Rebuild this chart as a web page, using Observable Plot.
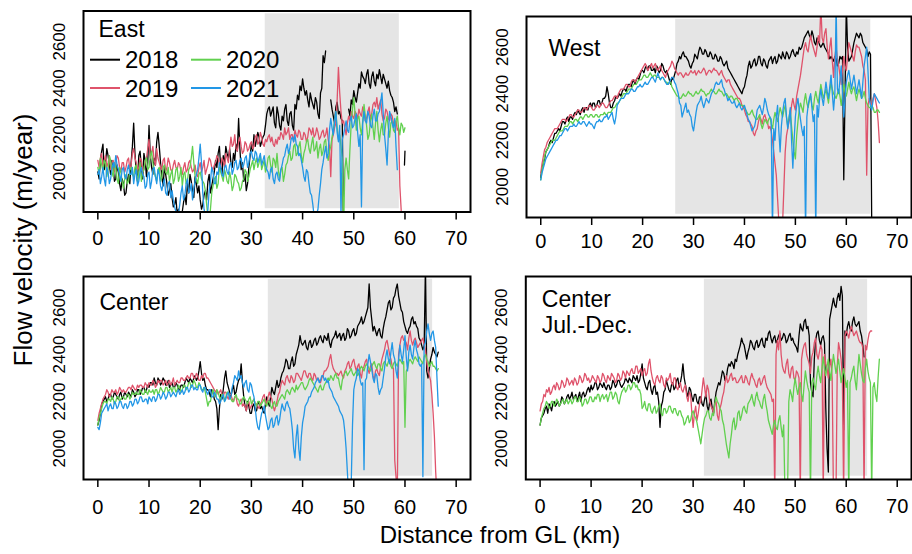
<!DOCTYPE html>
<html><head><meta charset="utf-8">
<script src="https://cdn.jsdelivr.net/npm/d3@7"></script>
<script src="https://cdn.jsdelivr.net/npm/@observablehq/plot@0.6"></script>
<style>
body{margin:0;background:#fff;}
#root{position:relative;width:912px;height:554px;overflow:hidden;background:#fff;}
.panel{position:absolute;}
</style></head><body><div id="root"></div>
<script>
const years = ["2018","2019","2020","2021"];
const colors = ["#000000","#DF536B","#61D04F","#2297E6"];
const xTicks = [0,10,20,30,40,50,60,70];
const yTicks = [2000,2200,2400,2600];
const step = 0.5; // main samples every 0.5 km from 0 km; "Mid" arrays hold the samples half-way between them
const shadeY = [1882, 2720];

// ---------- East ----------
const eastShade = [32.7, 58.9];
const east2018 = [
2040,2090,2160,2080,2110,2030,2060,2010,2040,1960,
1990,1950,2030,2080,2250,2040,2110,2060,2120,2020,
2240,2060,2100,2170,2150,2020,2060,1990,1960,1930,
1900,1860,1840,1870,1940,1990,2030,1960,2020,1950,
1920,1900,1960,2000,1950,2010,2090,2120,2060,2110,
2150,2100,2080,2120,2160,2270,2050,2000,1960,2060,
2160,2200,2180,2190,2170,2200,2290,2320,2300,2250,
2320,2240,2280,2310,2260,2290,2240,2330,2370,2410,
2440,2370,2350,2380,2330,2360,2290,2380,2540,2560,
null,2350,2280,2320,2290,2270,1750,null,2310,2350,
2390,2340,2420,2470,2440,2460,2420,2450,2430,2460,
2480,2420,2440,2400,2390,2360,2300,2290];
const east2018Mid = [
2010,2130,2050,2140,2070,2090,2000,2070,1990,2010,
1940,2000,1990,2150,2120,2000,2130,2010,2090,2080,
2110,2030,2070,2210,2080,1980,2030,1940,1990,1890,
1930,1880,1820,1910,1900,1950,2000,1930,1990,1980,
1880,1940,1920,2030,1980,2040,2060,2150,2030,2070,
2120,2140,2060,2090,2130,2140,2080,2030,1990,2110,
2130,2150,2210,2150,2190,2240,2310,2280,2320,2230,
2290,2220,2260,2330,2240,2300,2220,2310,2350,2390,
2400,2390,2320,2350,2310,2340,2270,2400,2510,null,
null,2310,2250,2340,2300,2260,null,null,2280,2330,
2360,2380,2400,2450,2420,2480,2400,2470,2410,2440,
2450,2460,2420,2430,2370,2340,2320];
const east2018TailKm = [59.9, 60.0];
const east2018TailV = [2070, 2130];
const east2019 = [
2090,2100,2060,2110,2080,2050,2090,2070,2100,2040,
2080,2060,2100,2070,2140,2080,2060,2090,2050,2100,
2180,2120,2090,2140,2080,2050,2100,2060,2080,2040,
2090,2050,2070,2030,2080,2050,2090,2040,2070,2020,
2080,2060,2030,2070,2090,2050,2080,2100,2060,2090,
2120,2080,2190,2160,2140,2170,2150,2130,2160,2140,
2170,2150,2200,2170,2190,2150,2170,2200,2190,2150,
2160,2180,2200,2230,2210,2180,2200,2220,2190,2210,
2180,2200,2190,2220,2230,2200,2210,2190,2220,2200,
2180,2020,2200,2250,2490,2300,2260,2200,2280,2300,
2270,2290,2310,2280,2300,2270,2320,2290,2340,2360,
2330,2290,2270,2300,2260,2280,2240,2220,1980,1750];
const east2019Mid = [
2060,2120,2090,2060,2110,2080,2040,2110,2060,2080,
2040,2090,2050,2120,2100,2050,2100,2040,2080,2140,
2100,2150,2070,2100,2060,2090,2040,2100,2050,2070,
2060,2080,2040,2060,2040,2080,2060,2050,2030,2060,
2040,2090,2050,2100,2060,2070,2110,2070,2100,2060,
2100,2140,2150,2200,2130,2190,2120,2170,2130,2160,
2140,2190,2160,2210,2160,2180,2190,2170,2160,2180,
2190,2210,2180,2200,2230,2200,2170,2200,2220,2180,
2210,2170,2230,2200,2190,2230,2180,2210,2190,2230,
2150,2180,2230,2350,2380,2250,2230,2250,2260,2280,
2300,2270,2290,2320,2260,2300,2270,2330,2320,2310,
2350,2260,2310,2270,2290,2250,2260,2230,1880];
const east2020 = [
2060,2100,2040,2080,2050,2090,2020,2060,1990,2040,
1970,2030,2000,2060,2020,2070,2030,2000,2050,2100,
2060,2130,2040,2000,2060,2020,2070,2030,2000,2050,
2010,2060,2020,1980,2040,2000,2060,2150,2020,1990,
2040,2000,1960,1850,1880,1980,2020,1990,2040,2000,
2030,1990,2010,1980,2020,1990,1970,2010,2040,2020,
2070,2050,2100,2080,2050,2090,2060,2110,2040,2090,
2120,2010,2060,2030,2080,2130,2100,2160,2120,2170,
2080,2140,2180,2120,2190,2140,2100,2160,2130,2180,
2090,2150,2220,2300,2180,2150,1780,2100,2010,2250,
2360,2220,2280,2200,2330,2240,2200,2290,2180,2300,
2170,2250,2200,2280,2190,2260,2210,2280,2200,2240,
2230];
const east2020Mid = [
2030,2070,2090,2020,2110,2040,2080,2010,2060,2000,
2010,1990,2050,2030,2060,2000,2080,2040,2090,2050,
2110,2080,2020,2050,2000,2060,2040,2060,2030,1990,
2050,2000,2060,2030,1990,2050,2100,2080,2010,2030,
2010,1990,1900,1830,1950,2010,1970,2060,2020,2050,
2000,2040,1960,2030,2000,1960,2000,2050,2000,2050,
2090,2080,2060,2110,2070,2040,2100,2070,2100,2060,
2050,2050,2000,2070,2110,2090,2150,2110,2150,2110,
2120,2170,2140,2160,2130,2170,2140,2110,2170,2120,
2130,2190,2260,2230,2200,2100,2050,2050,2140,2310,
2290,2270,2230,2260,2280,2180,2260,2230,2250,2220,
2220,2200,2250,2230,2250,2220,2260,2230,2250,2210];
const east2021 = [
2030,1990,2060,1980,2040,2010,2080,2110,2050,2000,
2060,2010,2070,2030,1990,2050,2000,2060,2020,1980,
2040,2000,2060,1990,2030,1960,2010,1940,2000,1960,
1890,1840,1900,1980,1940,2010,1960,1920,2000,2050,
2160,1950,1850,1880,2000,2040,1990,2030,2060,2020,
2070,2030,2080,2050,2090,2060,2100,2070,2110,2080,
2130,2090,2120,2100,2070,2110,2050,2010,2060,1990,
2040,2000,2070,2110,2160,2140,2190,2200,2150,2120,
2060,2000,2040,1950,1900,1830,1880,1990,2080,2150,
2120,2270,2200,2300,2170,1850,2200,2260,2210,2280,
2240,2290,2150,1890,2300,2250,2280,2230,2310,2260,
2300,2380,2200,2070,2300,2250,2270,2050];
const east2021Mid = [
2050,2020,2010,2060,1990,2050,2060,2070,2030,2050,
2020,2050,2030,2060,2030,1980,2040,2030,1970,2030,
1970,2050,2020,2050,1980,1990,1950,1990,1930,1920,
1870,1860,1950,1920,1990,1950,1990,1970,2030,2100,
2080,1880,1830,1960,2060,1990,2040,2080,2030,2060,
2040,2070,2030,2080,2050,2090,2060,2100,2060,2120,
2100,2130,2080,2120,2090,2070,2040,2050,2010,2030,
2010,2050,2100,2140,2120,2180,2170,2160,2110,2090,
2020,2050,1990,1940,1850,1860,1940,2050,2120,2100,
2220,2230,2260,2210,2240,2180,2230,2220,2260,2230,
2270,2210,2200,2250,2260,2300,2240,2280,2260,2290,
2340,2290,2140,2200,2280,2230,2150];

// ---------- West ----------
const westShade = [26.5, 64.8];
const west2018 = [
2040,2100,2150,2170,2200,2210,2230,2250,2260,2280,
2290,2280,2300,2310,2310,2320,2330,2320,2340,2350,
2340,2360,2350,2370,2360,2380,2430,2360,2340,2370,
2380,2400,2410,2420,2430,2440,2450,2440,2470,2480,
2500,2510,2500,2520,2500,2490,2510,2500,2520,2490,
2480,2440,2460,2500,2540,2550,2580,2560,2540,2510,
2540,2560,2580,2590,2570,2580,2560,2570,2550,2560,
2540,2550,2520,2540,2500,2480,2460,2440,2420,2400,
2430,2480,2540,2520,2550,2530,2560,2520,2540,2510,
2550,2530,2560,2540,2560,2580,2550,2570,2560,2590,
2560,2570,2590,2620,2650,2670,2640,2650,2610,2630,
2600,2620,2590,2570,2560,2540,2550,2530,2550,2030,
2780,2540,2560,2620,2660,2640,2650,2610,2590,2580,
1800];
const west2018Mid = [
2080,2120,2160,2190,2190,2230,2240,2240,2280,2270,
2300,2300,2290,2320,2330,2310,2340,2340,2330,2360,
2360,2340,2370,2350,2380,2390,2400,2340,2360,2390,
2390,2390,2420,2410,2440,2430,2460,2460,2460,2500,
2490,2520,2520,2500,2510,2520,2490,2530,2500,2500,
2460,2470,2480,2530,2560,2570,2560,2550,2520,2530,
2570,2550,2600,2570,2590,2560,2580,2550,2570,2540,
2560,2530,2530,2510,2490,2470,2450,2430,2410,2420,
2460,2520,2510,2540,2520,2560,2530,2550,2520,2540,
2560,2550,2530,2570,2550,2560,2580,2550,2580,2570,
2580,2600,2600,2640,2660,2650,2670,2620,2640,2610,
2610,2600,2580,2550,2550,2560,2520,2560,2560,2400,
2600,2550,2590,2640,2650,2660,2620,2600,2560,2570];
const west2019 = [
2060,2130,2170,2200,2220,2240,2250,2260,2280,2290,
2280,2300,2310,2300,2320,2330,2320,2340,2330,2350,
2340,2330,2350,2340,2360,2350,2340,2360,2370,2390,
2380,2410,2420,2430,2440,2430,2460,2450,2470,2490,
2510,2530,2500,2520,2510,2530,2500,2520,2490,2470,
2500,2520,2530,2500,2480,2490,2470,2490,2480,2500,
2490,2480,2500,2490,2510,2480,2500,2490,2510,2500,
2480,2500,2470,2450,2460,2430,2410,2390,2380,2350,
2330,2300,2280,2260,2220,2250,2300,2270,2310,2280,
2260,2200,2100,1950,1800,1850,2150,2250,2300,2380,
2330,2420,2480,2560,2620,2580,2650,2600,2560,2650,
2780,2620,2680,2550,2640,2470,2600,2520,2440,2560,
2500,2620,2580,2540,2610,2600,2560,2500,2050,2380,
2350,2400,2340,2190];
const west2019Mid = [
2100,2160,2190,2210,2230,2250,2250,2270,2290,2290,
2290,2310,2300,2310,2330,2320,2330,2340,2340,2350,
2330,2340,2350,2350,2360,2340,2350,2370,2380,2390,
2400,2420,2420,2440,2430,2450,2460,2460,2480,2500,
2520,2520,2510,2530,2520,2510,2510,2500,2480,2490,
2510,2540,2510,2490,2490,2480,2480,2480,2490,2490,
2500,2490,2490,2500,2500,2490,2500,2500,2500,2490,
2490,2480,2460,2460,2440,2420,2400,2380,2370,2340,
2310,2280,2270,2230,2240,2280,2290,2300,2290,2250,
2240,2150,2050,1850,1700,2000,2220,2280,2350,2350,
2390,2450,2520,2600,2590,2620,2620,2580,2600,2620,
2640,2660,2600,2600,2540,2560,2550,2480,2500,2520,
2560,2600,2560,2580,2600,2580,2520,2460,2350,2360,
2380,2370,2280];
const west2020 = [
2030,2100,2150,2170,2190,2200,2210,2230,2240,2250,
2260,2270,2280,2280,2290,2290,2300,2300,2310,2300,
2310,2300,2310,2300,2310,2320,2310,2320,2330,2340,
2360,2370,2390,2400,2410,2420,2430,2440,2450,2460,
2470,2480,2470,2490,2470,2480,2470,2460,2470,2450,
2440,2450,2420,2400,2390,2380,2400,2390,2410,2400,
2390,2410,2400,2420,2410,2390,2400,2420,2410,2400,
2420,2410,2390,2400,2380,2390,2370,2380,2360,2350,
2340,2320,2310,2330,2300,2290,2310,2250,2290,2270,
2300,2250,2320,2280,2340,2300,2350,2260,2330,2200,
2120,2280,2360,2320,2400,2340,2390,2330,2410,2360,
2440,2380,2420,2360,2450,2400,2380,2420,2350,2440,
2390,2450,2400,2430,2370,2420,2380,2410,2360,2340,
2350,2320,2330,2320];
const west2020Mid = [
2070,2130,2160,2180,2200,2200,2220,2240,2240,2260,
2260,2280,2270,2290,2280,2300,2290,2310,2300,2310,
2300,2310,2300,2310,2310,2310,2320,2320,2340,2350,
2360,2380,2400,2400,2420,2420,2440,2440,2460,2460,
2480,2470,2480,2480,2480,2470,2470,2470,2460,2450,
2450,2430,2410,2390,2380,2390,2390,2400,2400,2390,
2400,2400,2410,2410,2400,2400,2410,2410,2400,2410,
2410,2400,2400,2390,2390,2380,2380,2370,2350,2350,
2330,2310,2320,2310,2290,2300,2270,2270,2280,2290,
2270,2290,2300,2310,2320,2330,2300,2300,2260,2150,
2220,2330,2340,2370,2360,2370,2350,2380,2380,2400,
2410,2400,2390,2410,2420,2390,2400,2390,2400,2410,
2420,2420,2420,2400,2400,2400,2390,2380,2350,2340,
2340,2320,2330];
const west2021 = [
2030,2080,2120,2140,2160,2180,2200,2210,2220,2240,
2250,2250,2260,2270,2260,2280,2270,2280,2260,2280,
2270,2250,2280,2290,2280,2300,2310,2300,2320,2270,
2350,2370,2380,2390,2400,2410,2420,2410,2430,2440,
2430,2450,2440,2460,2470,2450,2490,2460,2470,2450,
2440,2460,2470,2440,2400,2350,2320,2360,2330,2300,
2240,2320,2360,2390,2340,2380,2360,2400,2420,2450,
2440,2460,2420,2390,2380,2360,2370,2340,2360,2330,
2350,2310,2280,2240,2260,2330,2350,2310,2380,2330,
2300,1800,2200,2350,2150,2320,2380,2250,2340,2080,
2300,2380,2290,2220,1800,2350,2400,2280,1800,2300,
2420,2350,2450,2380,2480,2330,2780,2400,2520,2300,
2450,2500,2420,2480,2400,2460,2380,2520,2600,2380,
2330,2400,2380,2360];
const west2021Mid = [
2060,2100,2130,2150,2170,2190,2200,2220,2230,2250,
2240,2260,2260,2260,2270,2270,2280,2270,2270,2270,
2260,2270,2280,2280,2290,2300,2290,2310,2290,2300,
2360,2380,2380,2400,2400,2420,2410,2420,2430,2430,
2440,2440,2450,2470,2460,2470,2470,2470,2460,2440,
2450,2470,2450,2420,2360,2300,2340,2320,2310,2260,
2280,2350,2370,2360,2360,2370,2380,2410,2440,2440,
2450,2430,2400,2370,2370,2360,2350,2350,2340,2340,
2330,2290,2260,2250,2290,2340,2330,2340,2360,2310,
2290,2250,2300,2240,2260,2360,2300,2290,2200,2200,
2350,2330,2250,2260,2300,2380,2340,2310,2350,2380,
2380,2400,2410,2430,2400,2400,2420,2460,2400,2380,
2480,2460,2450,2440,2430,2420,2450,2560,2500,2350,
2370,2390,2370];

// ---------- Center ----------
const centerShade = [33.3, 65.4];
const center2018 = [
2100,2150,2200,2220,2210,2230,2220,2230,2210,2240,
2220,2230,2240,2220,2240,2230,2250,2240,2260,2250,
2260,2280,2300,2270,2290,2280,2290,2270,2260,2280,
2260,2270,2250,2270,2280,2290,2300,2280,2310,2300,
2370,2290,2270,2250,2220,2240,2200,2080,2230,2250,
2330,2260,2220,2270,2240,2290,2360,2220,2160,2180,
2150,2190,2160,2200,2180,2150,2220,2180,2260,2230,
2290,2270,2320,2350,2370,2340,2390,2360,2420,2480,
2440,2460,2420,2460,2440,2470,2450,2480,2450,2470,
2490,2430,2470,2500,2480,2460,2490,2470,2500,2480,
2510,2490,2530,2560,2540,2580,2700,2550,2520,2480,
2510,2470,2540,2590,2630,2600,2650,2700,2620,2580,
2520,2490,2520,2560,2540,2510,2460,2420,2780,2300,
2380,2430,2400,2410];
const center2018Mid = [
2120,2190,2210,2200,2230,2210,2240,2220,2230,2210,
2240,2220,2230,2250,2220,2250,2230,2260,2240,2270,
2280,2270,2280,2300,2270,2300,2270,2290,2270,2260,
2280,2250,2270,2260,2300,2280,2290,2300,2290,2330,
2320,2300,2250,2240,2250,2210,2170,2170,2210,2300,
2280,2240,2250,2230,2270,2300,2280,2180,2200,2150,
2180,2160,2190,2170,2160,2190,2200,2220,2240,2260,
2260,2300,2330,2380,2340,2370,2350,2400,2440,2450,
2450,2430,2450,2430,2460,2440,2470,2460,2480,2460,
2450,2460,2480,2470,2490,2480,2460,2510,2470,2500,
2480,2520,2540,2530,2560,2600,2600,2500,2500,2500,
2480,2510,2560,2620,2590,2640,2680,2650,2590,2540,
2500,2510,2550,2530,2520,2470,2440,2440,2330,2340,
2400,2410,2390];
const center2019 = [
2120,2170,2210,2230,2240,2230,2240,2250,2240,2250,
2250,2240,2260,2250,2260,2250,2260,2270,2260,2270,
2280,2270,2280,2270,2280,2290,2280,2270,2290,2280,
2270,2290,2280,2300,2290,2310,2300,2320,2300,2310,
2290,2300,2320,2300,2280,2260,2240,2230,2250,2220,
2240,2210,2230,2200,2220,2180,2210,2190,2160,2200,
2180,2210,2190,2170,2200,2230,2190,2240,2210,2160,
2200,2240,2290,2270,2310,2280,2300,2290,2320,2300,
2310,2330,2300,2320,2290,2310,2300,2280,2310,2330,
2350,2400,2340,2320,2310,2330,2300,2340,2370,2350,
2380,2330,2360,2300,2350,2380,2320,2360,2290,2340,
2310,2380,2420,2460,2400,2350,1950,1800,2440,2480,
2460,2420,2500,2440,2470,2430,2450,2470,2420,2330,
2290,2150,1900,1700];
const center2019Mid = [
2150,2190,2220,2250,2220,2250,2240,2230,2260,2240,
2240,2250,2260,2270,2250,2270,2270,2260,2280,2260,
2270,2290,2260,2290,2290,2270,2290,2280,2270,2300,
2280,2280,2300,2290,2300,2300,2320,2300,2320,2290,
2310,2320,2300,2290,2270,2250,2250,2240,2230,2240,
2220,2230,2210,2220,2190,2200,2180,2180,2190,2170,
2200,2190,2180,2190,2220,2200,2220,2220,2180,2180,
2230,2270,2280,2300,2290,2310,2280,2320,2310,2290,
2330,2310,2320,2300,2320,2290,2290,2300,2330,2340,
2380,2360,2330,2320,2320,2310,2330,2360,2340,2370,
2350,2350,2320,2340,2370,2340,2350,2310,2330,2320,
2350,2400,2450,2430,2380,2340,1880,2400,2470,2460,
2450,2470,2460,2460,2450,2440,2460,2440,2370,2310,
2230,2050,1800];
const center2020 = [
2100,2150,2190,2200,2210,2200,2210,2200,2220,2210,
2220,2210,2230,2220,2230,2240,2230,2240,2230,2240,
2250,2240,2230,2250,2240,2250,2240,2260,2250,2240,
2260,2250,2260,2250,2270,2260,2280,2270,2280,2260,
2270,2250,2240,2180,2200,2250,2220,2240,2210,2230,
2220,2240,2210,2200,2230,2210,2190,2220,2200,2210,
2190,2210,2180,2200,2190,2210,2180,2200,2170,2200,
2180,2210,2230,2210,2250,2230,2260,2240,2250,2270,
2280,2250,2270,2300,2280,2260,2240,2270,2250,2280,
2300,2310,2290,2320,2300,2250,2310,2330,2320,2340,
2310,2330,2320,2350,2330,2360,2340,2350,2370,2340,
2360,2330,2370,2350,2380,2340,2370,2350,2380,2360,
2090,2340,2380,2360,2390,2370,2380,2360,2400,2370,
2360,2350,2340,2340];
const center2020Mid = [
2130,2170,2200,2190,2210,2220,2190,2220,2200,2220,
2210,2230,2210,2240,2230,2230,2250,2230,2250,2230,
2240,2250,2250,2230,2260,2240,2260,2240,2260,2260,
2240,2270,2240,2270,2250,2280,2260,2290,2260,2280,
2250,2260,2210,2200,2230,2230,2250,2220,2230,2200,
2240,2220,2200,2220,2210,2190,2210,2210,2190,2220,
2200,2190,2200,2180,2200,2190,2200,2180,2190,2180,
2200,2220,2220,2240,2240,2250,2250,2270,2260,2280,
2260,2260,2290,2290,2270,2250,2260,2250,2270,2290,
2290,2300,2310,2300,2270,2290,2320,2310,2330,2320,
2320,2310,2340,2340,2350,2350,2330,2360,2350,2360,
2340,2360,2360,2370,2350,2360,2360,2370,2370,2370,
2330,2370,2370,2380,2380,2390,2370,2390,2380,2350,
2370,2350,2330];
const center2021 = [
2090,2110,2160,2180,2160,2190,2170,2190,2180,2200,
2170,2190,2180,2200,2190,2210,2200,2220,2200,2210,
2220,2200,2220,2210,2230,2220,2230,2220,2240,2230,
2230,2240,2230,2250,2240,2260,2250,2270,2260,2250,
2270,2240,2260,2230,2250,2220,2230,2210,2200,2230,
2210,2240,2220,2280,2300,2330,2310,2260,2290,2240,
2270,2220,2120,2080,2150,2180,2110,2090,2130,2100,
2140,2120,2190,2160,2200,2170,2080,1960,2100,1950,
2110,2180,2200,2220,2250,2280,2300,2290,2310,2300,
2290,2250,2220,2200,2180,2150,2120,2000,1800,1850,
2250,2300,2330,2270,1910,2300,2400,2340,2280,2310,
2230,2260,2340,2420,2360,2450,2380,2300,2440,2370,
2480,2330,2440,2380,2460,2400,2350,1880,2450,2530,
2460,2500,2430,2180];
const center2021Mid = [
2080,2150,2170,2190,2180,2170,2200,2170,2200,2180,
2190,2170,2200,2180,2210,2190,2220,2200,2210,2190,
2210,2220,2200,2230,2210,2240,2210,2240,2220,2240,
2220,2250,2240,2230,2260,2240,2270,2250,2250,2270,
2250,2260,2240,2250,2220,2240,2210,2190,2220,2200,
2230,2210,2260,2310,2290,2300,2280,2280,2250,2280,
2240,2170,2090,2120,2160,2140,2080,2120,2090,2130,
2100,2160,2170,2190,2180,2130,2000,2050,2000,2050,
2140,2190,2220,2240,2260,2290,2280,2310,2290,2280,
2260,2240,2210,2190,2160,2140,2070,1900,1750,2100,
2280,2340,2290,2280,2290,2360,2370,2300,2320,2260,
2250,2300,2390,2380,2410,2400,2330,2380,2400,2420,
2390,2410,2400,2430,2420,2360,2360,2440,2500,2490,
2490,2460,2300];

// ---------- Center Jul.-Dec. ----------
const jdShade = [32.2, 64.2];
const jd2018 = [
2100,2140,2170,2150,2180,2190,2180,2200,2190,2210,
2200,2230,2220,2210,2230,2220,2200,2240,2230,2260,
2270,2260,2280,2260,2270,2280,2250,2270,2260,2280,
2270,2290,2260,2280,2290,2300,2280,2300,2310,2290,
2360,2280,2250,2290,2230,2270,2240,2090,2200,2250,
2270,2240,2280,2260,2300,2280,2360,2270,2220,2250,
2200,2230,2190,2220,2180,2230,2160,2210,2150,2240,
2280,2300,2320,2300,2360,2370,2340,2370,2420,2470,
2440,2380,2430,2450,2420,2460,2440,2470,2430,2460,
2500,2450,2480,2460,2490,2470,2480,2460,2490,2470,
2440,2410,2530,2500,2550,2520,2280,2220,2460,2500,
2440,2480,2170,1900,2580,2640,2600,2660,2690,2080,
2480,2540,2500,2560,2520,2540,2480,2390];
const jd2018Mid = [
2130,2150,2180,2190,2160,2200,2190,2180,2220,2190,
2220,2210,2240,2220,2200,2240,2230,2220,2250,2240,
2250,2280,2250,2280,2260,2260,2270,2250,2290,2260,
2290,2270,2270,2300,2280,2290,2310,2290,2280,2320,
2300,2260,2280,2250,2260,2230,2200,2180,2240,2290,
2250,2270,2250,2290,2260,2310,2300,2240,2260,2220,
2230,2200,2220,2190,2210,2180,2200,2170,2200,2260,
2270,2330,2290,2340,2350,2360,2380,2400,2440,2450,
2410,2410,2460,2430,2450,2430,2460,2440,2470,2490,
2470,2470,2450,2480,2460,2490,2450,2480,2460,2450,
2430,2480,2510,2540,2510,2480,2240,2380,2490,2460,
2470,2450,2000,2550,2610,2610,2640,2630,2650,2500,
2520,2510,2540,2530,2530,2500,2440];
const jd2019 = [
2160,2200,2220,2240,2230,2260,2250,2270,2260,2280,
2270,2290,2280,2270,2290,2280,2300,2290,2310,2300,
2290,2300,2280,2300,2290,2310,2280,2300,2320,2300,
2290,2310,2300,2320,2330,2310,2340,2320,2350,2330,
2310,2340,2320,2380,2300,2270,2310,2280,2300,2260,
2290,2320,2270,2300,2250,2280,2240,2270,2200,2230,
2090,2180,2150,2200,2300,2220,2250,2180,2150,2200,
2120,2190,2240,2310,2290,2320,2300,2280,2290,2310,
2280,2300,2270,2320,2290,2260,2300,2280,2310,2260,
2240,2200,1800,2460,2500,2350,2320,2380,2300,2350,
2290,2320,1800,2420,2450,2380,2320,2410,2470,2380,
2440,1800,2360,2300,2380,1800,1800,2450,2380,1800,
2500,2470,2520,2480,2500,2460,2450,1800,2420,2490,
2500];
const jd2019Mid = [
2190,2230,2250,2260,2240,2270,2280,2250,2290,2260,
2300,2270,2290,2300,2270,2310,2280,2320,2290,2280,
2310,2290,2310,2280,2320,2290,2310,2290,2310,2280,
2320,2290,2330,2300,2320,2330,2320,2350,2320,2340,
2330,2310,2360,2330,2280,2300,2290,2310,2270,2300,
2300,2280,2300,2260,2270,2250,2260,2220,2240,2150,
2150,2120,2190,2250,2260,2270,2200,2170,2190,2140,
2170,2220,2280,2280,2310,2290,2300,2280,2300,2280,
2310,2280,2300,2300,2270,2290,2270,2300,2280,2250,
2230,2210,2400,2420,2400,2330,2360,2320,2340,2300,
2330,2300,2380,2440,2400,2360,2390,2450,2400,2410,
2420,2400,2340,2350,2300,1800,2350,2420,2300,2480,
2490,2500,2500,2490,2480,2450,2430,2440,2460,2500];
const jd2020 = [
2100,2150,2180,2190,2180,2200,2190,2200,2190,2210,
2200,2190,2210,2200,2220,2200,2210,2190,2210,2200,
2220,2200,2210,2230,2220,2210,2230,2220,2240,2220,
2230,2190,2240,2260,2250,2270,2260,2280,2270,2250,
2170,2200,2160,2190,2150,2180,2160,2190,2140,2170,
2160,2180,2150,2170,2140,2160,2130,2110,2140,2120,
2160,2130,2080,2020,2100,2140,2160,2120,2140,2220,
2190,2160,2100,2020,1960,2060,2130,2100,2160,2140,
2180,2150,2200,2230,2180,2240,2200,2170,2230,2160,
2100,2060,2120,2080,2140,2050,1800,1800,2250,2200,
2300,2230,2280,2200,2330,2260,1800,2300,2250,2350,
2280,2390,2310,2380,2290,2400,2320,2380,2280,2340,
2260,1800,2300,2350,2250,2400,2320,2280,2380,2300,
1800,2280,2200,2380];
const jd2020Mid = [
2130,2170,2200,2170,2200,2180,2210,2180,2200,2190,
2210,2200,2190,2220,2200,2220,2180,2210,2190,2220,
2200,2220,2230,2200,2230,2220,2200,2240,2210,2240,
2200,2220,2250,2240,2270,2250,2280,2260,2250,2230,
2180,2170,2190,2160,2170,2150,2180,2150,2170,2150,
2180,2160,2170,2150,2160,2140,2100,2130,2110,2150,
2140,2110,2050,2060,2130,2160,2130,2150,2190,2200,
2170,2120,2060,1990,2020,2110,2080,2150,2120,2170,
2160,2190,2210,2200,2220,2210,2180,2210,2190,2120,
2080,2100,2090,2120,2090,2100,1800,2200,2230,2260,
2260,2260,2230,2270,2290,2240,2280,2270,2310,2310,
2340,2340,2350,2330,2350,2360,2350,2330,2310,2300,
2290,2280,2330,2290,2330,2360,2290,2340,2330,2280,
2260,2230,2300];

const legendYears = ["2018","2019","2020","2021"];

// ---------- layout (pixel geometry of each panel) ----------
const layout = [
  {label:"East", series:[east2018,east2019,east2020,east2021], mids:[east2018Mid,east2019Mid,east2020Mid,east2021Mid], shade:eastShade, left:0, top:0, w:480, h:255, ml:83, mr:10, mt:10.5, mb:43.5, xpad:10.5, ldx:15, ldy:7.5},
  {label:"West", series:[west2018,west2019,west2020,west2021], mids:[west2018Mid,west2019Mid,west2020Mid,west2021Mid], shade:westShade, left:450, top:0, w:462, h:255, ml:76, mr:1, mt:16, mb:38, xpad:8, ldx:22, ldy:21},
  {label:"Center", series:[center2018,center2019,center2020,center2021], mids:[center2018Mid,center2019Mid,center2020Mid,center2021Mid], shade:centerShade, left:0, top:262, w:480, h:262, ml:83, mr:10, mt:14, mb:45, xpad:12, ldx:16, ldy:15},
  {label:"Center\nJul.-Dec.", series:[jd2018,jd2019,jd2020], mids:[jd2018Mid,jd2019Mid,jd2020Mid], shade:jdShade, left:450, top:262, w:462, h:262, ml:75.3, mr:1, mt:14, mb:45, xpad:11, ldx:16, ldy:12}
];

const root = document.getElementById("root");
const sans = "'Liberation Sans', Arial, sans-serif";

layout.forEach((g, p) => {
  const rows = [];
  g.series.forEach((arr, k) => {
    const mid = g.mids[k];
    arr.forEach((v, i) => {
      rows.push({km: i * step, v, year: years[k], seg: years[k]});
      if (i < arr.length - 1 && mid[i] !== undefined) rows.push({km: i * step + step / 2, v: mid[i], year: years[k], seg: years[k]});
    });
  });
  if (p === 0) east2018TailKm.forEach((km, i) => rows.push({km, v: east2018TailV[i], year: "2018", seg: "2018tail"}));
  const shade = [{x1: g.shade[0], x2: g.shade[1], y1: shadeY[0], y2: shadeY[1]}];
  const chart = Plot.plot({
    width: g.w, height: g.h,
    marginLeft: g.ml, marginRight: g.mr, marginTop: g.mt, marginBottom: g.mb,
    x: {domain: [-2.8, 72.8]},
    y: {domain: [1868, 2732]},
    color: {domain: years, range: colors},
    style: {background: "none", overflow: "visible", fontFamily: sans, color: "#000"},
    marks: [
      Plot.rect(shade, {x1: "x1", x2: "x2", y1: "y1", y2: "y2", fill: "#e5e5e5"}),
      Plot.line(rows, {x: "km", y: "v", z: "seg", stroke: "year", strokeWidth: 1.3, clip: true}),
      Plot.frame({stroke: "#000", strokeWidth: 2}),
      Plot.axisX(xTicks, {tickSize: 8, tickPadding: g.xpad, fontSize: 20, strokeWidth: 1.5, label: null, tickFormat: d => String(d)}),
      Plot.axisY(yTicks, {tickSize: 0, tickRotate: -90, tickPadding: 19, fontSize: 17, label: null, tickFormat: d => String(d)}),
      Plot.text([g.label], {text: d => d, frameAnchor: "top-left", dx: g.ldx, dy: g.ldy, fontSize: 23, fontFamily: sans, lineHeight: 1.13, lineAnchor: "top", textAnchor: "start"})
    ]
  });
  chart.classList.add("panel");
  chart.style.left = g.left + "px";
  chart.style.top = g.top + "px";
  root.appendChild(chart);
});

// ---------- overlay: axis titles and legend ----------
const ov = d3.select(root).append("svg")
  .attr("width", 912).attr("height", 554)
  .style("position", "absolute").style("left", "0px").style("top", "0px")
  .style("font-family", sans);

ov.append("text").attr("transform", "translate(31.5,240) rotate(-90)")
  .attr("text-anchor", "middle").attr("font-size", 26).text("Flow velocity (m/year)");
ov.append("text").attr("x", 500).attr("y", 543)
  .attr("text-anchor", "middle").attr("font-size", 24).text("Distance from GL (km)");

const legPos = [[90, 59.7], [90, 88], [191, 59.7], [191, 88]];
legendYears.forEach((yr, i) => {
  const [lx, ly] = legPos[i];
  ov.append("line").attr("x1", lx).attr("x2", lx + 30).attr("y1", ly).attr("y2", ly)
    .attr("stroke", colors[i]).attr("stroke-width", 2);
  ov.append("text").attr("x", lx + 35).attr("y", ly + 8.6).attr("font-size", 24).text(yr);
});
</script>
</body></html>
